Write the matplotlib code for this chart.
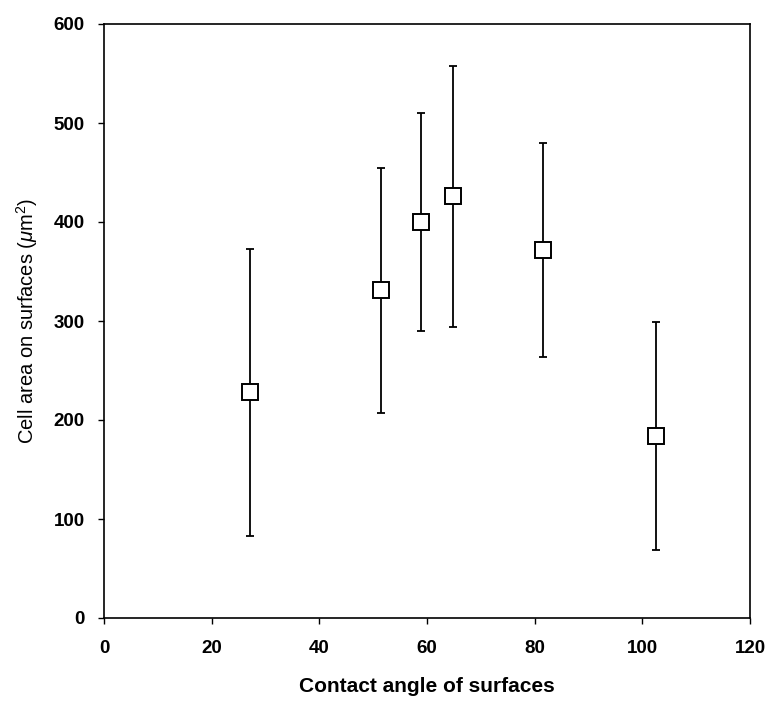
import matplotlib
matplotlib.use("Agg")
import matplotlib.pyplot as plt

plt.rcParams['font.family'] = ['Liberation Sans', 'DejaVu Sans']
plt.rcParams['mathtext.fontset'] = 'custom'
plt.rcParams['mathtext.rm'] = 'Liberation Sans'
plt.rcParams['mathtext.it'] = 'Liberation Sans:italic'

# contact angle (deg), mean cell area (um^2) and error
contact_angle = [27.2, 51.5, 58.8, 64.8, 81.6, 102.5]
cell_area = [228, 331, 400, 426, 372, 184]
area_err = [145, 124, 110, 132, 108, 115]

x_ticks = [0, 20, 40, 60, 80, 100, 120]
y_ticks = [0, 100, 200, 300, 400, 500, 600]

fig = plt.figure(figsize=(7.7, 7.11), dpi=100)
ax = fig.add_axes([104 / 770, 1 - 618 / 711, 646 / 770, 594 / 711])

ax.errorbar(contact_angle, cell_area, yerr=area_err, fmt='none',
            ecolor='black', elinewidth=1.3, capsize=3, capthick=1.3, zorder=2)
ax.plot(contact_angle, cell_area, 's', markersize=11.5, markerfacecolor='white',
        markeredgecolor='black', markeredgewidth=1.4, linestyle='none', zorder=3)

ax.set_xlim(0, 120)
ax.set_ylim(0, 600)
ax.set_xticks(x_ticks)
ax.set_yticks(y_ticks)
ax.tick_params(axis='both', direction='out', length=4, width=1, labelsize=13.5)
ax.tick_params(axis='x', pad=12)
ax.tick_params(axis='y', pad=10)
for lab in ax.get_xticklabels() + ax.get_yticklabels():
    lab.set_fontweight('bold')

for sp in ax.spines.values():
    sp.set_linewidth(1.2)
    sp.set_color('black')

ax.set_xlabel('Contact angle of surfaces', fontsize=15, fontweight='bold', labelpad=14)
ax.set_ylabel(r'Cell area on surfaces ($\mathit{\mu}$m$^2$)', fontsize=14.5, labelpad=10)

fig.savefig('out.png', dpi=100, facecolor='white')
